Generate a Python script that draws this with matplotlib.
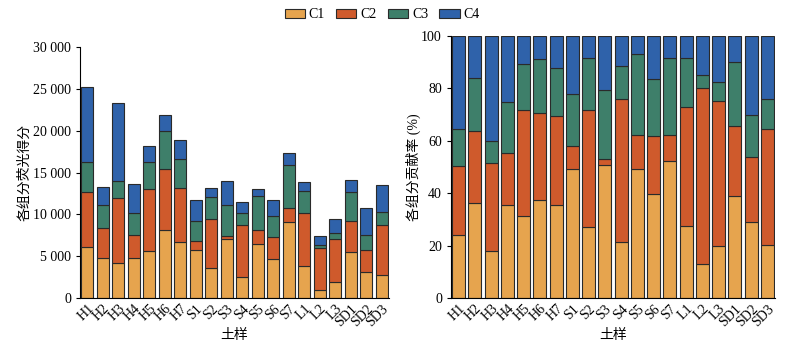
import matplotlib
matplotlib.use("Agg")
import matplotlib.pyplot as plt
from matplotlib.ticker import FuncFormatter, MultipleLocator
from matplotlib.patches import Patch
import numpy as np

plt.rcParams['font.family'] = ['Liberation Serif', 'Noto Sans CJK SC']
plt.rcParams['font.size'] = 10

samples = ["H1", "H2", "H3", "H4", "H5", "H6", "H7",
           "S1", "S2", "S3", "S4", "S5", "S6", "S7",
           "L1", "L2", "L3", "SD1", "SD2", "SD3"]
c1 = [6050, 4780, 4140, 4820, 5660, 8170, 6730, 5780, 3550, 7090,
      2470, 6410, 4660, 9080, 3820, 960, 1870, 5500, 3110, 2750]
c2 = [6650, 3630, 7810, 2710, 7370, 7250, 6410, 1040, 5890, 320,
      6260, 1710, 2590, 1670, 6340, 5020, 5220, 3750, 2670, 5940]
c3 = [3550, 2710, 2030, 2630, 3230, 4540, 3470, 2350, 2590, 3670,
      1430, 4060, 2590, 5140, 2590, 360, 680, 3430, 1710, 1550]
c4 = [8950, 2110, 9280, 3430, 1910, 1910, 2270, 2590, 1120, 2870,
      1320, 880, 1910, 1430, 1160, 1120, 1670, 1390, 3230, 3270]
names = ["C1", "C2", "C3", "C4"]
colors = ["#E6A44E", "#CF5A2C", "#3E7F6A", "#2F62AA"]

data = np.array([c1, c2, c3, c4], dtype=float)
pct = data / data.sum(axis=0) * 100
x = np.arange(len(samples))

fig = plt.figure(figsize=(7.93, 3.45), dpi=100)
ax1 = fig.add_axes([0.1009, 0.1362, 0.3897, 0.7275])
ax2 = fig.add_axes([0.5687, 0.1362, 0.4086, 0.7594])

for ax, vals in [(ax1, data), (ax2, pct)]:
    bottom = np.zeros(len(samples))
    for i in range(4):
        ax.bar(x, vals[i], 0.8, bottom=bottom, color=colors[i],
               edgecolor="#2a2a2a", linewidth=0.8)
        bottom += vals[i]
    ax.set_xlim(-0.47, len(samples) - 0.53)
    ax.set_xticks(x)
    ax.set_xticklabels(samples, rotation=45, ha="right", rotation_mode="anchor")
    ax.spines["top"].set_visible(False)
    ax.spines["right"].set_visible(False)
    ax.tick_params(direction="out", length=3, width=0.8, labelsize=10)
    ax.tick_params(axis="x", length=0, pad=3)
    ax.set_xlabel("土样", fontsize=10, labelpad=0)

ax1.set_ylim(0, 30000)
ax1.yaxis.set_major_locator(MultipleLocator(5000))
ax1.yaxis.set_major_formatter(FuncFormatter(
    lambda v, p: "0" if v == 0 else "{:,}".format(int(v)).replace(",", " ")))
ax1.set_ylabel("各组分荧光得分", fontsize=10, labelpad=1)

ax2.set_ylim(0, 100)
ax2.yaxis.set_major_locator(MultipleLocator(20))
ax2.set_ylabel("各组分贡献率 (%)", fontsize=10, labelpad=0)

handles = [Patch(facecolor=colors[i], edgecolor="#2a2a2a", linewidth=0.8, label=names[i])
           for i in range(4)]
fig.legend(handles=handles, loc="center", bbox_to_anchor=(0.482, 0.957), ncol=4,
           frameon=False, fontsize=10, handlelength=1.45, handleheight=0.72,
           columnspacing=0.8, handletextpad=0.3, borderpad=0)

fig.savefig("out.png", dpi=100)
